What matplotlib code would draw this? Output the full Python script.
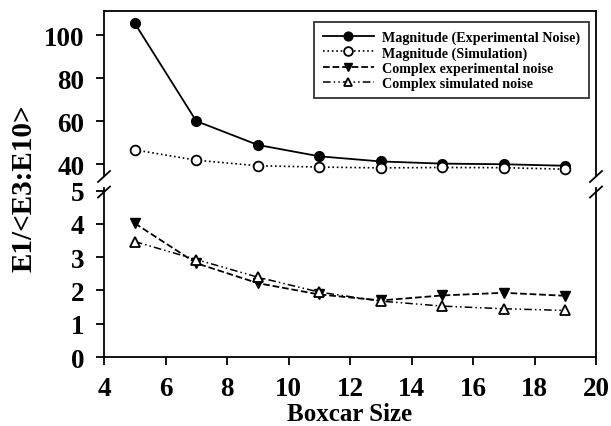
import numpy as np
import matplotlib.pyplot as plt

plt.rcParams['font.family'] = 'Liberation Serif'
plt.rcParams['font.weight'] = 'bold'

boxcar = [5, 7, 9, 11, 13, 15, 17, 19]
mag_exp = [105.5, 60.0, 48.9, 43.6, 41.2, 40.2, 39.9, 39.2]
mag_sim = [46.6, 41.8, 39.2, 38.6, 38.2, 38.4, 38.3, 37.6]
cplx_exp = [4.02, 2.82, 2.22, 1.88, 1.70, 1.85, 1.93, 1.84]
cplx_sim = [3.47, 2.93, 2.40, 1.95, 1.68, 1.53, 1.45, 1.40]

W, H = 611, 427
L, R = 104, 596
fig = plt.figure(figsize=(6.11, 4.27), dpi=100)
ax1 = fig.add_axes([L/W, 1 - 176/H, (R - L)/W, (176 - 12)/H])
ax2 = fig.add_axes([L/W, 1 - 358/H, (R - L)/W, (358 - 189)/H], sharex=ax1)

ms = 7
ax1.plot(boxcar, mag_exp, '-', color='black', lw=1.3, marker='o', ms=ms,
         mfc='black', mec='black', label='Magnitude (Experimental Noise)')
ax1.plot(boxcar, mag_sim, ':', color='black', lw=1.2, marker='o', ms=ms,
         mfc='white', mec='black', mew=1.3, label='Magnitude (Simulation)')
l3, = ax2.plot(boxcar, cplx_exp, '--', color='black', lw=1.3, marker='v', ms=ms,
               mfc='black', mec='black', label='Complex experimental noise')
l4, = ax2.plot(boxcar, cplx_sim, '-.', color='black', lw=1.1, marker='^', ms=ms,
               mfc='white', mec='black', mew=1.3, dashes=[5, 2, 1, 2, 1, 2],
               label='Complex simulated noise')

ax1.set_ylim(34.9, 111.2)
ax2.set_ylim(0, 5.08)
ax1.set_xlim(4, 20)
ax1.set_yticks([40, 60, 80, 100])
ax2.set_yticks([0, 1, 2, 3, 4, 5])
ax2.set_xticks(np.arange(4, 21, 2))

ax1.spines['bottom'].set_visible(False)
ax2.spines['top'].set_visible(False)
ax1.tick_params(axis='x', which='both', bottom=False, labelbottom=False)
for ax in (ax1, ax2):
    for s in ax.spines.values():
        s.set_linewidth(1.3)
    ax.tick_params(axis='both', direction='out', length=6, width=1.3,
                   labelsize=19.5, right=False, top=False)
    ax.tick_params(axis='y', pad=8)
    for lab in ax.get_xticklabels() + ax.get_yticklabels():
        lab.set_fontweight('bold')
ax2.tick_params(axis='x', pad=8)

fig.text((L + R)/2/W, 1 - 415/H, 'Boxcar Size', fontsize=18,
         fontweight='bold', ha='center', va='center')
fig.text(24/W, 1 - 188/H, 'E1/<E3:E10>', rotation=90, fontsize=21,
         fontweight='bold', ha='center', va='center')

# break marks
for xc in (L, R):
    for yc in (177.5, 193):
        fig.add_artist(plt.Line2D([(xc - 6)/W, (xc + 6)/W],
                                  [1 - (yc + 5.5)/H, 1 - (yc - 5.5)/H],
                                  color='black', lw=1.3))

h1, lab1 = ax1.get_legend_handles_labels()
leg = ax1.legend(h1 + [l3, l4], lab1 + [l3.get_label(), l4.get_label()],
                 loc='upper left', bbox_to_anchor=((314 - L)/(R - L), (176 - 23)/(176 - 12)),
                 fontsize=10.2, frameon=True, fancybox=False, edgecolor='black',
                 handlelength=3.6, handletextpad=0.6, borderpad=0.6,
                 labelspacing=0.15, borderaxespad=0, markerscale=0.9)
leg.get_frame().set_linewidth(1.3)
for t in leg.get_texts():
    t.set_fontweight('bold')

fig.savefig('out.png', dpi=100)
